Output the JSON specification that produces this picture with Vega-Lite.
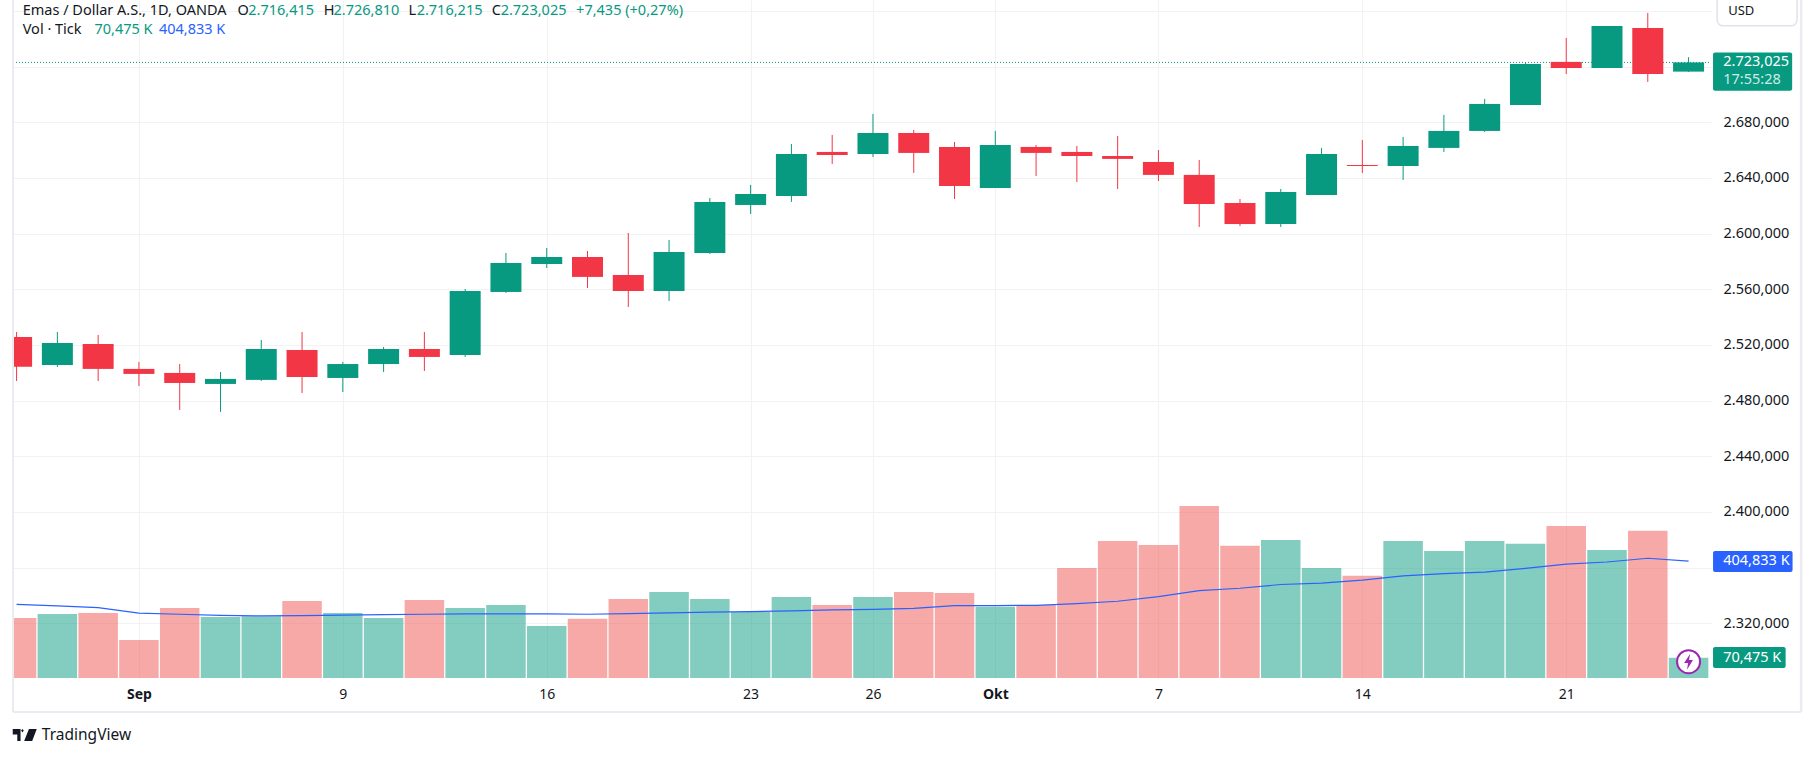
{
  "$schema": "https://vega.github.io/schema/vega-lite/v6.json",
  "width": 1698,
  "height": 678,
  "autosize": "none",
  "padding": {"left": 13, "top": 0, "right": 104, "bottom": 79},
  "background": "white",
  "config": {
    "locale": {"number": {"decimal": ",", "thousands": ".", "grouping": [3], "currency": ["", ""]}},
    "view": {"stroke": null},
    "font": "Noto Sans",
    "text": {"font": "Noto Sans", "fontSize": 14.5, "align": "left", "baseline": "middle", "color": "#131722"}
  },
  "datasets": {
    "bars": [
      {"i":0,"date":"2024-08-28","dir":"down","open":2525.7,"high":2529.3,"low":2494.1,"close":2504.4,"vol":208,"ma":255},
      {"i":1,"date":"2024-08-29","dir":"up","open":2505.6,"high":2529.3,"low":2504.2,"close":2521.4,"vol":222,"ma":250},
      {"i":2,"date":"2024-08-30","dir":"down","open":2520.7,"high":2527.2,"low":2494.1,"close":2502.8,"vol":225,"ma":244},
      {"i":3,"date":"2024-09-02","dir":"down","open":2502.8,"high":2507.8,"low":2490.5,"close":2499.2,"vol":132,"ma":225},
      {"i":4,"date":"2024-09-03","dir":"down","open":2499.9,"high":2506.3,"low":2473.3,"close":2492.7,"vol":243,"ma":221},
      {"i":5,"date":"2024-09-04","dir":"up","open":2492,"high":2500.6,"low":2471.9,"close":2495.6,"vol":211,"ma":217},
      {"i":6,"date":"2024-09-05","dir":"up","open":2494.9,"high":2523.6,"low":2494.1,"close":2517.1,"vol":214,"ma":215},
      {"i":7,"date":"2024-09-06","dir":"down","open":2516.4,"high":2529.3,"low":2485.5,"close":2497,"vol":267,"ma":216},
      {"i":8,"date":"2024-09-09","dir":"up","open":2496.3,"high":2507.8,"low":2486.2,"close":2506.3,"vol":225,"ma":218},
      {"i":9,"date":"2024-09-10","dir":"up","open":2506.3,"high":2518.6,"low":2500.6,"close":2517.1,"vol":208,"ma":220},
      {"i":10,"date":"2024-09-11","dir":"down","open":2517.1,"high":2529.3,"low":2501.3,"close":2511.4,"vol":270,"ma":221},
      {"i":11,"date":"2024-09-12","dir":"up","open":2512.8,"high":2560.2,"low":2511.4,"close":2558.8,"vol":243,"ma":222},
      {"i":12,"date":"2024-09-13","dir":"up","open":2558.1,"high":2586.1,"low":2557.4,"close":2578.9,"vol":253,"ma":222},
      {"i":13,"date":"2024-09-16","dir":"up","open":2578.2,"high":2589.7,"low":2575.3,"close":2583.2,"vol":180,"ma":222},
      {"i":14,"date":"2024-09-17","dir":"down","open":2583.2,"high":2587.5,"low":2561,"close":2568.9,"vol":205,"ma":221},
      {"i":15,"date":"2024-09-18","dir":"down","open":2570.3,"high":2600.5,"low":2547.3,"close":2558.8,"vol":274,"ma":223},
      {"i":16,"date":"2024-09-19","dir":"up","open":2558.8,"high":2595.4,"low":2551.6,"close":2586.8,"vol":298,"ma":226},
      {"i":17,"date":"2024-09-20","dir":"up","open":2586.1,"high":2625.6,"low":2585.4,"close":2622.8,"vol":274,"ma":228},
      {"i":18,"date":"2024-09-23","dir":"up","open":2620.6,"high":2635,"low":2614.1,"close":2628.5,"vol":229,"ma":230},
      {"i":19,"date":"2024-09-24","dir":"up","open":2627.1,"high":2664.4,"low":2622.8,"close":2657.2,"vol":281,"ma":233},
      {"i":20,"date":"2024-09-25","dir":"down","open":2658.7,"high":2670.9,"low":2650.1,"close":2656.5,"vol":253,"ma":236},
      {"i":21,"date":"2024-09-26","dir":"up","open":2657.2,"high":2686,"low":2655.1,"close":2672.3,"vol":281,"ma":238},
      {"i":22,"date":"2024-09-27","dir":"down","open":2672.3,"high":2674.5,"low":2643.6,"close":2658,"vol":298,"ma":241},
      {"i":23,"date":"2024-09-30","dir":"down","open":2662.3,"high":2665.9,"low":2624.9,"close":2634.3,"vol":295,"ma":251},
      {"i":24,"date":"2024-10-01","dir":"up","open":2632.8,"high":2673.8,"low":2632.8,"close":2663.7,"vol":247,"ma":251},
      {"i":25,"date":"2024-10-02","dir":"down","open":2662.3,"high":2663.7,"low":2641.4,"close":2658,"vol":253,"ma":252},
      {"i":26,"date":"2024-10-03","dir":"down","open":2658.7,"high":2663,"low":2637.1,"close":2655.8,"vol":381,"ma":258},
      {"i":27,"date":"2024-10-04","dir":"down","open":2655.8,"high":2670.2,"low":2632.1,"close":2653.7,"vol":475,"ma":266},
      {"i":28,"date":"2024-10-07","dir":"down","open":2651.5,"high":2660.1,"low":2637.8,"close":2642.2,"vol":461,"ma":282},
      {"i":29,"date":"2024-10-08","dir":"down","open":2642.2,"high":2652.9,"low":2604.8,"close":2621.3,"vol":596,"ma":303},
      {"i":30,"date":"2024-10-09","dir":"down","open":2622,"high":2624.9,"low":2605.5,"close":2606.9,"vol":458,"ma":311},
      {"i":31,"date":"2024-10-10","dir":"up","open":2606.9,"high":2632.1,"low":2604.8,"close":2629.9,"vol":478,"ma":324},
      {"i":32,"date":"2024-10-11","dir":"up","open":2627.8,"high":2661.6,"low":2627.8,"close":2657.2,"vol":381,"ma":329},
      {"i":33,"date":"2024-10-14","dir":"down","open":2649.3,"high":2667.3,"low":2643.6,"close":2648.6,"vol":354,"ma":339},
      {"i":34,"date":"2024-10-15","dir":"up","open":2648.6,"high":2669.5,"low":2638.6,"close":2663,"vol":475,"ma":354},
      {"i":35,"date":"2024-10-16","dir":"up","open":2661.6,"high":2685.3,"low":2658.7,"close":2673.8,"vol":440,"ma":362},
      {"i":36,"date":"2024-10-17","dir":"up","open":2673.8,"high":2696.8,"low":2673.1,"close":2693.2,"vol":475,"ma":367},
      {"i":37,"date":"2024-10-18","dir":"up","open":2692.5,"high":2722.6,"low":2692.5,"close":2721.9,"vol":465,"ma":380},
      {"i":38,"date":"2024-10-21","dir":"down","open":2723.4,"high":2740.6,"low":2714.7,"close":2719,"vol":527,"ma":395},
      {"i":39,"date":"2024-10-22","dir":"up","open":2719,"high":2749.2,"low":2719,"close":2749.2,"vol":444,"ma":402},
      {"i":40,"date":"2024-10-23","dir":"down","open":2747.8,"high":2758.6,"low":2709,"close":2714.7,"vol":510,"ma":415},
      {"i":41,"date":"2024-10-24","dir":"up","open":2716.415,"high":2726.81,"low":2716.215,"close":2723.025,"vol":70.475,"ma":404.833}
    ],
    "one": [{"n": 1}]
  },
  "encoding": {
    "x": {
      "type": "quantitative",
      "title": null,
      "scale": {"domain": [-0.088, 41.55], "nice": false, "zero": false, "padding": 0},
      "axis": {
        "values": [3, 8, 13, 18, 21, 24, 28, 33, 38],
        "labelExpr": "{3:'Sep',8:'9',13:'16',18:'23',21:'26',24:'Okt',28:'7',33:'14',38:'21'}[datum.value]",
        "labelFontWeight": {"condition": {"test": "datum.value==3||datum.value==24", "value": "bold"}, "value": "normal"},
        "labelFont": "Noto Sans",
        "labelFontSize": 14,
        "labelColor": "#131722",
        "labelPadding": 9,
        "labelOverlap": false,
        "domain": false,
        "ticks": false,
        "grid": true,
        "gridColor": "#F2F2F2"
      }
    }
  },
  "layer": [
    {
      "encoding": {
        "y": {"type": "quantitative", "title": null, "axis": null, "scale": {"domain": [0, 2350], "nice": false}}
      },
      "layer": [
        {
          "data": {"name": "bars"},
          "mark": {"type": "bar", "width": 39.5, "clip": true, "opacity": 0.5},
          "encoding": {
            "x": {"field": "i"},
            "y": {"field": "vol"},
            "color": {"field": "dir", "type": "nominal", "legend": null, "scale": {"domain": ["up", "down"], "range": ["#089981", "#EF5350"]}}
          }
        },
        {
          "data": {"name": "bars"},
          "mark": {"type": "line", "color": "#2962FF", "strokeWidth": 1.2, "clip": true},
          "encoding": {"x": {"field": "i"}, "y": {"field": "ma"}}
        },
        {
          "data": {"name": "one"},
          "layer": [
            {
              "mark": {"type": "rect", "color": "#2962FF", "cornerRadius": 2},
              "encoding": {"x": {"datum": 41.6}, "x2": {"datum": 43.55}, "y": {"datum": 440}, "y2": {"datum": 367.4}}
            },
            {
              "mark": {"type": "text", "color": "white", "text": "404,833 K"},
              "encoding": {"x": {"datum": 41.85}, "y": {"datum": 404.833}}
            },
            {
              "mark": {"type": "rect", "color": "#089981", "cornerRadius": 2},
              "encoding": {"x": {"datum": 41.6}, "x2": {"datum": 43.38}, "y": {"datum": 107.5}, "y2": {"datum": 34.7}}
            },
            {
              "mark": {"type": "text", "color": "white", "text": "70,475 K"},
              "encoding": {"x": {"datum": 41.85}, "y": {"datum": 70.475}}
            },
            {
              "mark": {"type": "point", "shape": "circle", "size": 530, "filled": true, "fill": "white", "stroke": "#9C27B0", "strokeWidth": 2, "opacity": 1},
              "encoding": {"x": {"datum": 41}, "y": {"datum": 56.5}}
            },
            {
              "mark": {"type": "point", "shape": "M 0.2 -1 L -0.55 0.15 L -0.05 0.15 L -0.2 1 L 0.55 -0.2 L 0.05 -0.2 Z", "size": 256, "filled": true, "color": "#9C27B0", "opacity": 1},
              "encoding": {"x": {"datum": 41}, "y": {"datum": 56.5}}
            }
          ]
        }
      ]
    },
    {
      "encoding": {
        "y": {
          "type": "quantitative",
          "title": null,
          "scale": {"domain": [2280.7, 2767.88], "nice": false, "zero": false},
          "axis": {
            "orient": "right",
            "values": [2760, 2720, 2680, 2640, 2600, 2560, 2520, 2480, 2440, 2400, 2360, 2320],
            "format": ",.3f",
            "labelExpr": "datum.value==2760||datum.value==2720||datum.value==2360?'':datum.label",
            "labelFont": "Noto Sans",
            "labelFontSize": 14.5,
            "labelColor": "#131722",
            "labelPadding": 12,
            "domain": false,
            "ticks": false,
            "grid": true,
            "gridColor": "#F2F2F2"
          }
        }
      },
      "layer": [
        {
          "data": {"name": "one"},
          "mark": {"type": "rule", "color": "#089981", "strokeDash": [1, 2], "strokeWidth": 1},
          "encoding": {"x": {"datum": -0.088}, "x2": {"datum": 41.55}, "y": {"datum": 2723.025}}
        },
        {
          "data": {"name": "bars"},
          "mark": {"type": "rule", "strokeWidth": 1, "clip": true},
          "encoding": {
            "x": {"field": "i"},
            "y": {"field": "low"},
            "y2": {"field": "high"},
            "color": {"field": "dir", "type": "nominal", "legend": null, "scale": {"domain": ["up", "down"], "range": ["#089981", "#F23645"]}}
          }
        },
        {
          "data": {"name": "bars"},
          "mark": {"type": "bar", "width": 31, "clip": true},
          "encoding": {
            "x": {"field": "i"},
            "y": {"field": "open"},
            "y2": {"field": "close"},
            "color": {"field": "dir", "type": "nominal", "legend": null}
          }
        },
        {
          "data": {"name": "one"},
          "layer": [
            {
              "mark": {"type": "rule", "color": "#EBEBF1", "strokeWidth": 2},
              "encoding": {"x": {"datum": -0.088}, "y": {"datum": 2767.88}, "y2": {"datum": 2256.3}}
            },
            {
              "mark": {"type": "rule", "color": "#EBEBF1", "strokeWidth": 2.5},
              "encoding": {"x": {"datum": 43.76}, "y": {"datum": 2767.88}, "y2": {"datum": 2256.3}}
            },
            {
              "mark": {"type": "rule", "color": "#EBEBF1", "strokeWidth": 2},
              "encoding": {"x": {"datum": -0.088}, "x2": {"datum": 43.76}, "y": {"datum": 2256.3}}
            },
            {
              "mark": {"type": "rect", "fill": "white", "stroke": "#E0E3EB", "strokeWidth": 1.5, "cornerRadius": 6},
              "encoding": {"x": {"datum": 41.7}, "x2": {"datum": 43.66}, "y": {"datum": 2775}, "y2": {"datum": 2749.3}}
            },
            {"mark": {"type": "text", "text": "USD", "fontSize": 13}, "encoding": {"x": {"datum": 41.97}, "y": {"datum": 2760.3}}},
            {
              "mark": {"type": "rect", "color": "#089981", "cornerRadius": 2},
              "encoding": {"x": {"datum": 41.6}, "x2": {"datum": 43.54}, "y": {"datum": 2730.2}, "y2": {"datum": 2702.7}}
            },
            {"mark": {"type": "text", "text": "2.723,025", "color": "white"}, "encoding": {"x": {"datum": 41.85}, "y": {"datum": 2723.5}}},
            {"mark": {"type": "text", "text": "17:55:28", "color": "#CDEBE6"}, "encoding": {"x": {"datum": 41.85}, "y": {"datum": 2710.4}}},
            {"mark": {"type": "text", "text": "Emas / Dollar A.S., 1D, OANDA"}, "encoding": {"x": {"datum": 0.15}, "y": {"datum": 2760.3}}},
            {"mark": {"type": "text", "text": "O"}, "encoding": {"x": {"datum": 5.42}, "y": {"datum": 2760.3}}},
            {"mark": {"type": "text", "text": "2.716,415", "color": "#089981"}, "encoding": {"x": {"datum": 5.68}, "y": {"datum": 2760.3}}},
            {"mark": {"type": "text", "text": "H"}, "encoding": {"x": {"datum": 7.53}, "y": {"datum": 2760.3}}},
            {"mark": {"type": "text", "text": "2.726,810", "color": "#089981"}, "encoding": {"x": {"datum": 7.77}, "y": {"datum": 2760.3}}},
            {"mark": {"type": "text", "text": "L"}, "encoding": {"x": {"datum": 9.61}, "y": {"datum": 2760.3}}},
            {"mark": {"type": "text", "text": "2.716,215", "color": "#089981"}, "encoding": {"x": {"datum": 9.81}, "y": {"datum": 2760.3}}},
            {"mark": {"type": "text", "text": "C"}, "encoding": {"x": {"datum": 11.65}, "y": {"datum": 2760.3}}},
            {"mark": {"type": "text", "text": "2.723,025", "color": "#089981"}, "encoding": {"x": {"datum": 11.87}, "y": {"datum": 2760.3}}},
            {"mark": {"type": "text", "text": "+7,435 (+0,27%)", "color": "#089981"}, "encoding": {"x": {"datum": 13.72}, "y": {"datum": 2760.3}}},
            {"mark": {"type": "text", "text": "Vol · Tick"}, "encoding": {"x": {"datum": 0.15}, "y": {"datum": 2746.3}}},
            {"mark": {"type": "text", "text": "70,475 K", "color": "#089981"}, "encoding": {"x": {"datum": 1.91}, "y": {"datum": 2746.3}}},
            {"mark": {"type": "text", "text": "404,833 K", "color": "#2962FF"}, "encoding": {"x": {"datum": 3.49}, "y": {"datum": 2746.3}}},
            {
              "mark": {"type": "point", "shape": "M -1 -0.5 L -0.35 -0.5 L -0.35 0.5 L -0.62 0.5 L -0.62 -0.05 L -1 -0.05 Z M -0.3 -0.38 L -0.2 -0.5 L -0.08 -0.38 L -0.2 -0.22 Z M 0.35 -0.5 L 1 -0.5 L 0.62 0.5 L -0.05 0.5 Z", "size": 576, "filled": true, "color": "#131722", "opacity": 1},
              "encoding": {"x": {"datum": 0.2}, "y": {"datum": 2239.7}}
            },
            {"mark": {"type": "text", "text": "TradingView", "fontSize": 15.5}, "encoding": {"x": {"datum": 0.62}, "y": {"datum": 2239.7}}}
          ]
        }
      ]
    }
  ],
  "resolve": {"scale": {"y": "independent", "color": "independent"}}
}
